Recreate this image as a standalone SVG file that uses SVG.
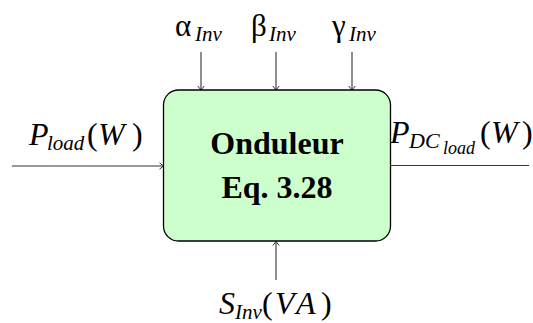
<svg xmlns="http://www.w3.org/2000/svg" width="533" height="323" viewBox="0 0 533 323">
<defs>
<style>
.ln{stroke:#333;stroke-width:1.1;fill:none}
.it{font-style:italic}
.big{font-size:32px}
.gr{font-size:31px}
.sub{font-size:21px}
.sub2{font-size:22px}
.ssub{font-size:18px}
.bold{font-weight:bold;font-size:32px;text-anchor:middle}
</style>
<marker id="arr" markerWidth="8" markerHeight="8" refX="6" refY="4" orient="auto" markerUnits="userSpaceOnUse">
<path d="M2,0.8 L6,4 L2,7.2" stroke="#333" stroke-width="1" fill="none"/>
</marker>
</defs>
<g id="connectors">
<line class="ln" x1="201" y1="52" x2="201" y2="90" marker-end="url(#arr)"/>
<line class="ln" x1="276" y1="52" x2="276" y2="90" marker-end="url(#arr)"/>
<line class="ln" x1="352" y1="52" x2="352" y2="90" marker-end="url(#arr)"/>
<line class="ln" x1="12" y1="166" x2="163.5" y2="166" marker-end="url(#arr)"/>
<line class="ln" x1="391" y1="165.5" x2="529" y2="165.5"/>
<line class="ln" x1="276" y1="280" x2="276" y2="241.5" marker-end="url(#arr)"/>
</g>
<g id="onduleur" font-family="Liberation Serif, Times New Roman, serif" fill="#000">
<rect x="163.5" y="90" width="227" height="151" rx="15" ry="15" fill="#ccffcc" stroke="#000" stroke-width="1.3"/>
<text class="bold" x="277" y="154">Onduleur</text>
<text class="bold" x="277" y="198">Eq. 3.28</text>
</g>
<g id="labels" font-family="Liberation Serif, Times New Roman, serif" fill="#000">
<text class="gr" x="175" y="36">α</text><text class="it sub" x="195" y="41">Inv</text>
<text class="gr" x="251" y="36">β</text><text class="it sub" x="269" y="41">Inv</text>
<text class="gr" x="332" y="36">γ</text><text class="it sub" x="349" y="41">Inv</text>
<text class="it big" x="29" y="145">P</text><text class="it sub" x="47" y="150">load</text><text class="big" x="87" y="145">(</text><text class="it big" x="98" y="145">W</text><text class="big" x="132" y="145">)</text>
<text class="it big" x="390" y="143">P</text><text class="it sub2" x="409" y="148">DC</text><text class="it ssub" x="443" y="154">load</text><text class="big" x="480" y="143">(</text><text class="it big" x="491" y="143">W</text><text class="big" x="522" y="143">)</text>
<text class="it big" x="219" y="314">S</text><text class="it sub" x="235" y="319">Inv</text><text class="big" x="262" y="314">(</text><text class="it big" x="275" y="314">V</text><text class="it big" x="296" y="314">A</text><text class="big" x="321" y="314">)</text>
</g>
</svg>
